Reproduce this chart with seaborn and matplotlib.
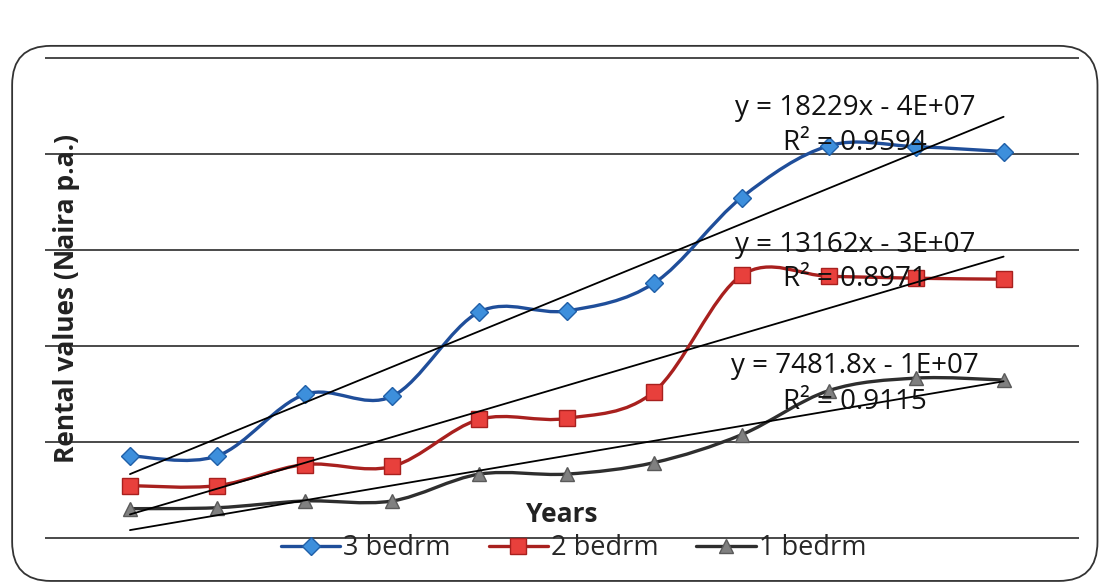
#!/usr/bin/env python3
"""
Rental values of 1-, 2- and 3-bedroom flats over the years,
smoothed series with linear trendlines (Excel-style chart).
"""

import numpy as np
import seaborn as sns
import matplotlib.pyplot as plt
from matplotlib.path import Path
from matplotlib.patches import PathPatch, FancyBboxPatch
from matplotlib.lines import Line2D

# data (Naira p.a.)
years = [2000, 2001, 2002, 2003, 2004, 2005, 2006, 2007, 2008, 2009, 2010]
bed3 = [43000, 43000, 75000, 74000, 118000, 118500, 133000, 177500, 204500, 204000, 201500]
bed2 = [27500, 27500, 38500, 37500, 62000, 62500, 76500, 137000, 136500, 135500, 135000]
bed1 = [15500, 16000, 19500, 19500, 33500, 33500, 39500, 54000, 77000, 83500, 82500]

labels = ["3 bedrm", "2 bedrm", "1 bedrm"]
equations = ["y = 18229x - 4E+07", "y = 13162x - 3E+07", "y = 7481.8x - 1E+07"]
r2_texts = ["R² = 0.9594", "R² = 0.8971", "R² = 0.9115"]


def smooth_path(x, y):
    """Excel-like smoothed line: cubic bezier through every point."""
    x = np.asarray(x, float)
    y = np.asarray(y, float)
    n = len(x)
    verts = [(x[0], y[0])]
    codes = [Path.MOVETO]
    for i in range(n - 1):
        p0 = i - 1 if i > 0 else i
        p3 = i + 2 if i + 2 < n else i + 1
        c1 = (x[i] + (x[i + 1] - x[p0]) / 6, y[i] + (y[i + 1] - y[p0]) / 6)
        c2 = (x[i + 1] - (x[p3] - x[i]) / 6, y[i + 1] - (y[p3] - y[i]) / 6)
        verts += [c1, c2, (x[i + 1], y[i + 1])]
        codes += [Path.CURVE4] * 3
    return Path(verts, codes)


sns.set_theme(style="white")
plt.rcParams["font.family"] = ["Open Sans", "DejaVu Sans"]

fig = plt.figure(figsize=(11.03, 5.88), dpi=100)
ax = fig.add_axes([0.041, 0.082, 0.937, 0.821])

# rounded chart border
fig.patches.append(FancyBboxPatch((0.011, 0.012), 0.984, 0.91,
                                  boxstyle="round,pad=0,rounding_size=0.035",
                                  transform=fig.transFigure, fill=False,
                                  ec="#333333", lw=1.3, mutation_aspect=1.9))

series = [
    (bed3, "#1f4e9a", "#3d8fdc", "#1f5fa8", "D", 9),
    (bed2, "#a8201e", "#e8403c", "#a8201e", "s", 12),
    (bed1, "#2e2e2e", "#808080", "#5a5a5a", "^", 10),
]

for vals, lc, mfc, mec, mk, ms in series:
    ax.add_patch(PathPatch(smooth_path(years, vals), fill=False, ec=lc, lw=2.4, zorder=3))
    sns.lineplot(x=years, y=vals, ax=ax, linestyle="", marker=mk, markersize=ms,
                 markerfacecolor=mfc, markeredgecolor=mec, markeredgewidth=1.0,
                 zorder=4, legend=False)
    # linear trendline
    sns.regplot(x=years, y=vals, ax=ax, scatter=False, ci=None, truncate=True,
                color="black", line_kws=dict(lw=1.3, zorder=5))

# trendline equations
eq_pos = [(224000, 206000), (153000, 135000), (90000, 71000)]
for eq, r2, (ye, yr) in zip(equations, r2_texts, eq_pos):
    ax.text(2008.3, ye, eq, ha="center", va="center", fontsize=20, color="#111111", zorder=6)
    ax.text(2008.3, yr, r2, ha="center", va="center", fontsize=20, color="#111111", zorder=6)

ax.set_xlim(1999.03, 2010.86)
ax.set_ylim(-700, 250700)
ax.set_yticks(np.arange(0, 250001, 50000))
ax.set_xticks([])
ax.tick_params(axis="y", labelleft=False, length=0)
ax.yaxis.grid(True, color="#2b2b2b", lw=1.2)
ax.set_axisbelow(True)
for s in ax.spines.values():
    s.set_visible(False)

ax.set_xlabel("Years", fontsize=19, fontweight="bold", color="#222222")
ax.xaxis.set_label_coords(0.5, 0.08)
ax.set_ylabel("Rental values (Naira p.a.)", fontsize=19, fontweight="bold", color="#222222")
ax.yaxis.set_label_coords(0.034, 0.5)

handles = []
for (vals, lc, mfc, mec, mk, ms), lab in zip(series, labels):
    handles.append(Line2D([], [], color=lc, lw=2.4, marker=mk, markersize=ms,
                          markerfacecolor=mfc, markeredgecolor=mec, label=lab))
fig.legend(handles=handles, loc="center", bbox_to_anchor=(0.52, 0.068), ncol=3,
           frameon=False, fontsize=19.5, handlelength=2.2, columnspacing=1.4,
           handletextpad=0.1, borderpad=0.2)

plt.savefig("out.png", dpi=100)
plt.close()
